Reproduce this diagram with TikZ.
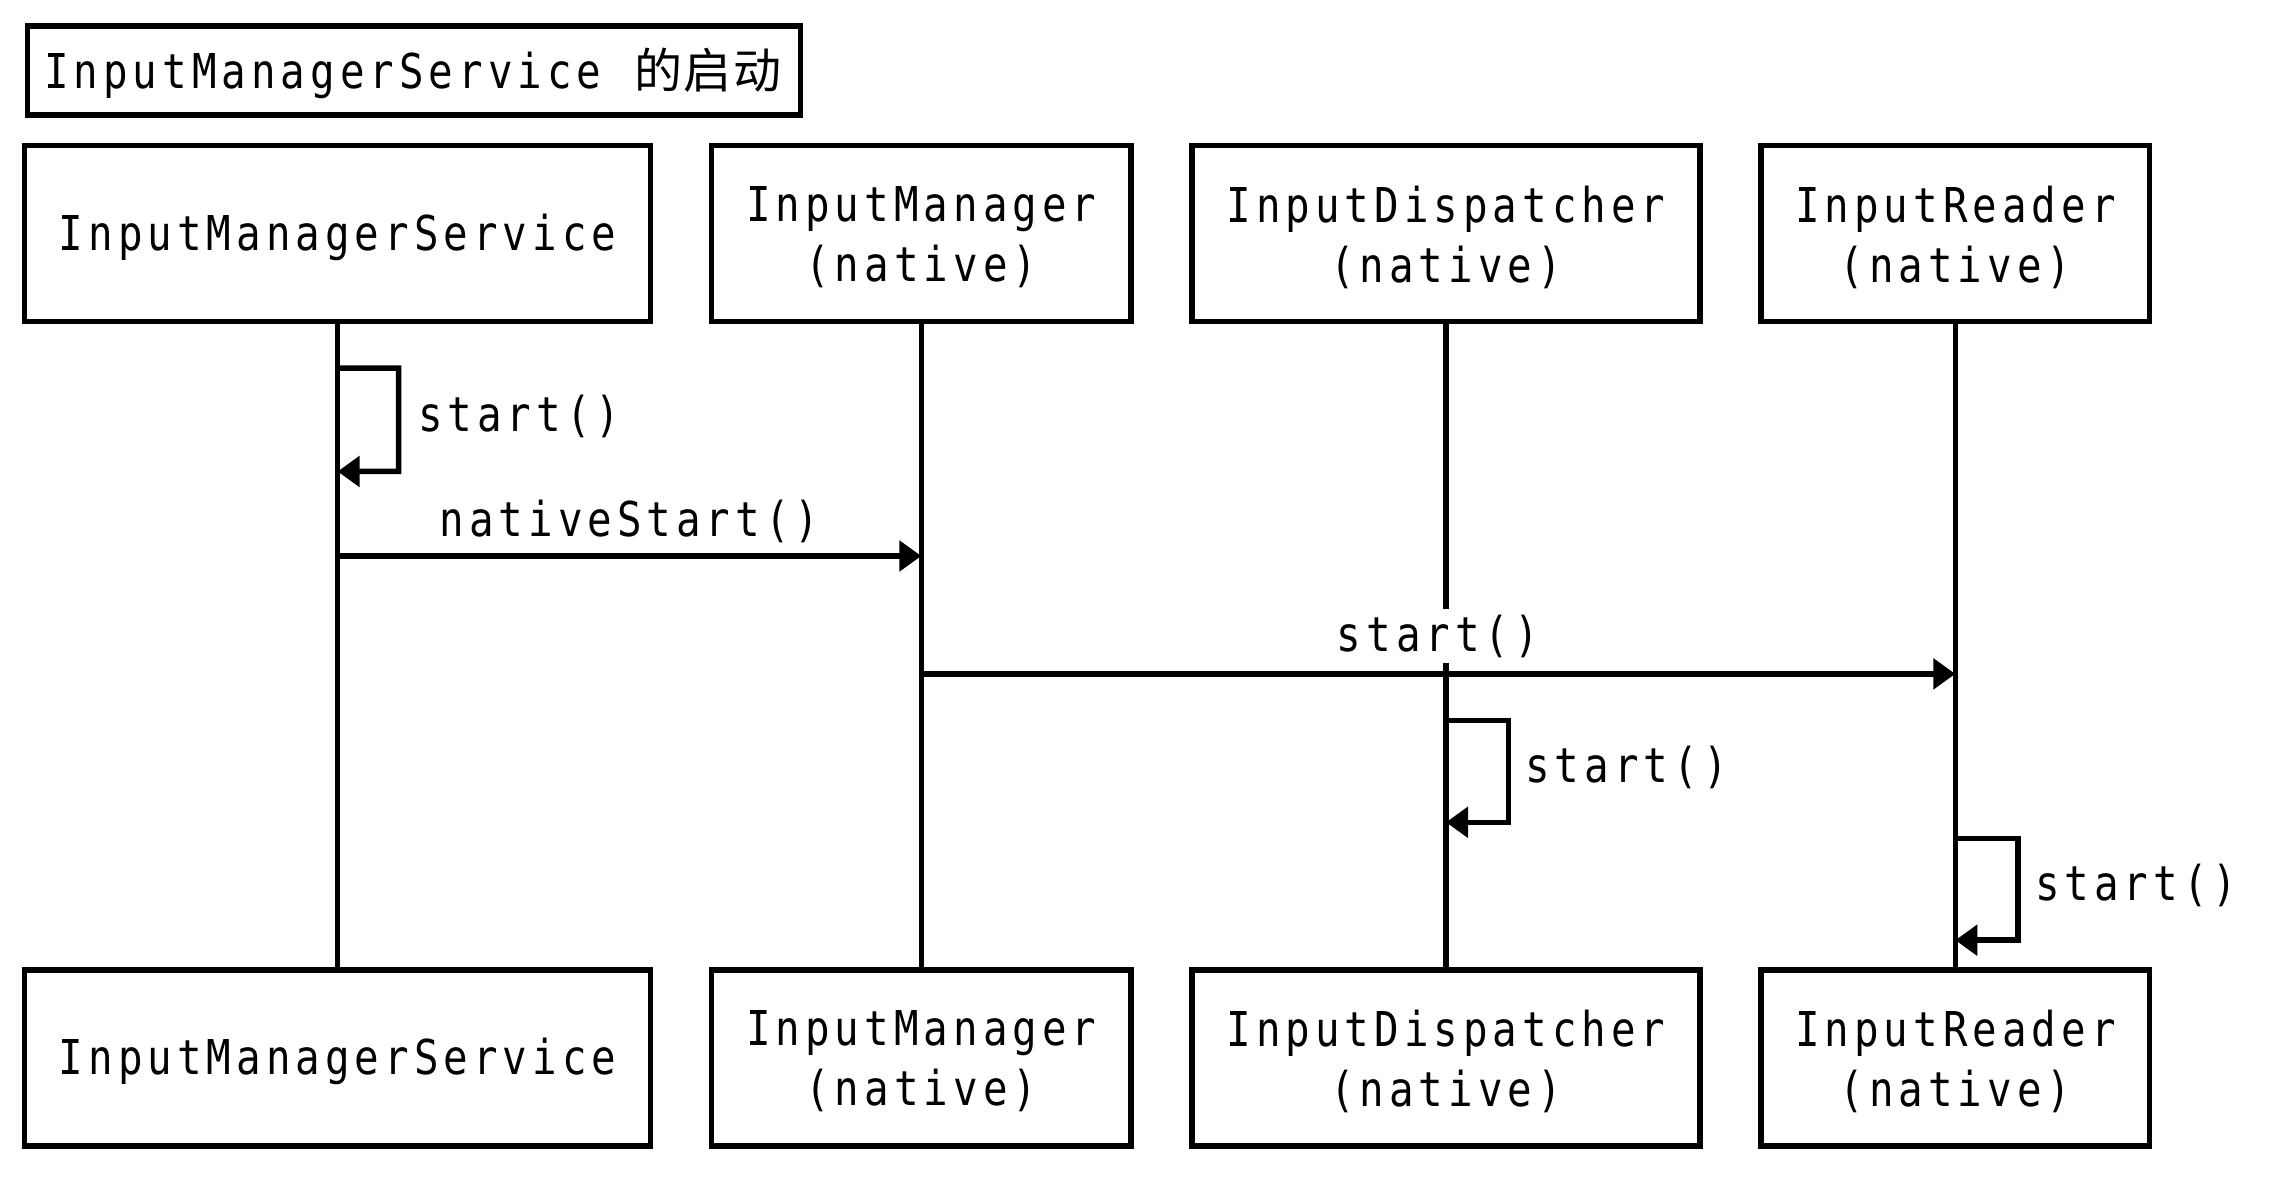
\documentclass[tikz,border=0pt]{standalone}
\usepackage{fontspec}
\usetikzlibrary{arrows.meta}
\newfontfamily\mf[FakeStretch=0.85,LetterSpace=10.5]{DejaVu Sans Mono}
\newfontfamily\cjk[LetterSpace=3]{Noto Sans CJK SC}
\tikzset{
  lbl/.style={font=\mf\fontsize{24}{30}\selectfont},
  actor/.style={draw, line width=2.75pt, inner sep=0pt, minimum height=88pt},
  actortext/.style={lbl, align=center, inner sep=0pt, yshift=-1.75pt},
  lifeline/.style={line width=2.75pt},
  msg/.style={line width=2.75pt, line join=miter, -{Triangle[length=11pt,width=15pt]}},
}
\begin{document}
\begin{tikzpicture}[x=0.5pt,y=-0.5pt]
\useasboundingbox (0,0) rectangle (2282,1192);
% title
\node[draw, line width=2.75pt, anchor=west, minimum width=386.5pt, minimum height=44.5pt,
      inner sep=0pt] (title) at (24.7,70.6) {};
\node[lbl, anchor=west, inner sep=0pt] (titletext) at (43.7,73.5)
  {InputManagerService\hspace{16.5pt}{\cjk\fontsize{24}{30}\selectfont 的启动}};
% top actors
\node[actor, minimum width=313pt, label={[actortext]center:InputManagerService}] (ims) at (337.6,233.5) {};
\node[actor, minimum width=209.6pt, label={[actortext]center:{InputManager\\(native)}}] (im) at (921.3,233.5) {};
\node[actor, minimum width=254pt, label={[actortext]center:{InputDispatcher\\(native)}}] (id) at (1446,233.5) {};
\node[actor, minimum width=194.3pt, label={[actortext]center:{InputReader\\(native)}}] (ir) at (1955.3,233.5) {};
% bottom actors
\node[actor, minimum width=313pt, label={[actortext]center:InputManagerService}] (ims2) at (337.6,1058) {};
\node[actor, minimum width=209.6pt, label={[actortext]center:{InputManager\\(native)}}] (im2) at (921.3,1058) {};
\node[actor, minimum width=254pt, label={[actortext]center:{InputDispatcher\\(native)}}] (id2) at (1446,1058) {};
\node[actor, minimum width=194.3pt, label={[actortext]center:{InputReader\\(native)}}] (ir2) at (1955.3,1058) {};
% lifelines
\draw[lifeline] (ims.south) -- (ims2.north);
\draw[lifeline] (im.south) -- (im2.north);
\draw[lifeline] (id.south) -- (id2.north);
\draw[lifeline] (ir.south) -- (ir2.north);
% messages
\draw[msg] (ims.south |- 0,368.2) -- ++(61,0) -- ++(0,103.3) -- (ims.south |- 0,471.5);
\node[lbl, anchor=west, inner sep=0pt] (l1) at (417.7,416.8) {start()};
\draw[msg] (ims.south |- 0,556) -- (im.south |- 0,556);
\node[lbl, inner sep=0pt] (l2) at (629.5,521.5) {nativeStart()};
\draw[msg] (im.south |- 0,673.9) -- (ir.south |- 0,673.9);
\node[lbl, fill=white, inner xsep=2pt, inner ysep=3pt] (l3) at (1438,636) {start()};
\draw[msg] (id.south |- 0,720.4) -- ++(62.6,0) -- ++(0,101.9) -- (id.south |- 0,822.3);
\node[lbl, anchor=west, inner sep=0pt] (l4) at (1525,767.5) {start()};
\draw[msg] (ir.south |- 0,838.3) -- ++(62.6,0) -- ++(0,101.9) -- (ir.south |- 0,940.2);
\node[lbl, anchor=west, inner sep=0pt] (l5) at (2034.6,885.5) {start()};
\end{tikzpicture}
\end{document}
